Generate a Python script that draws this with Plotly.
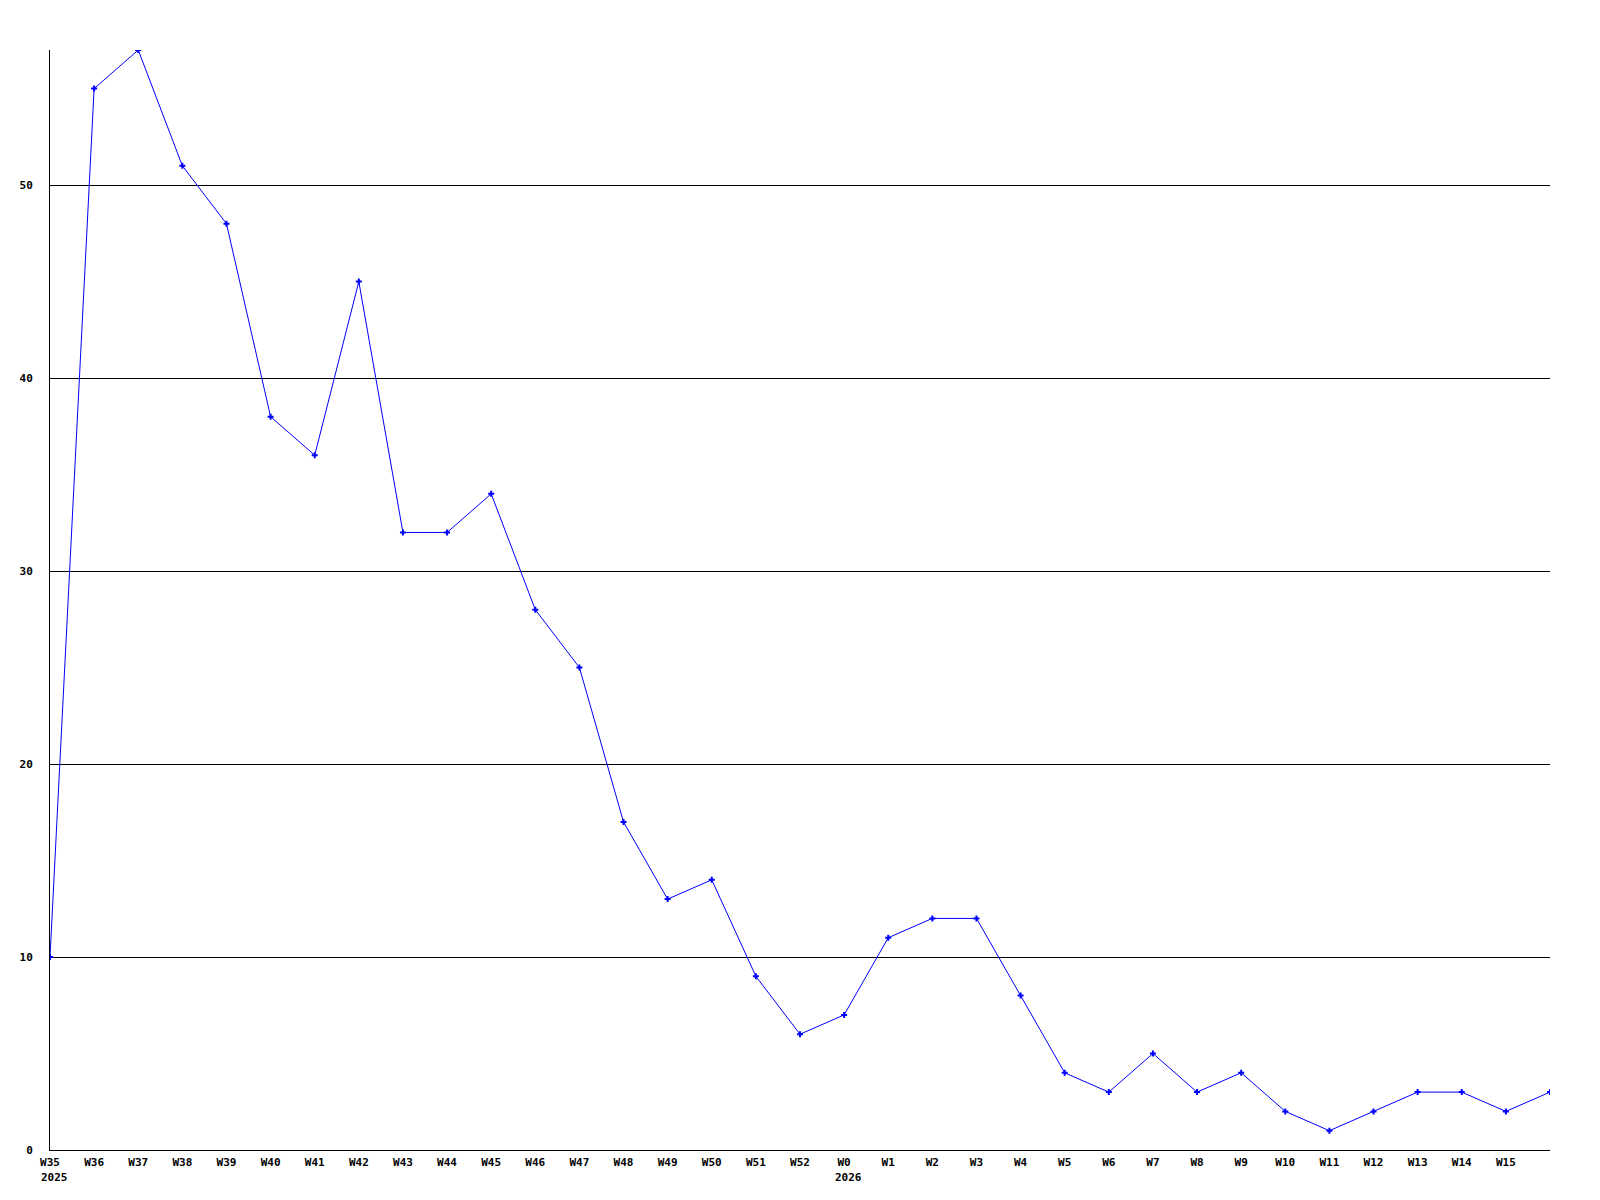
import plotly.graph_objects as go

weeks = ["W35", "W36", "W37", "W38", "W39", "W40", "W41", "W42", "W43", "W44",
         "W45", "W46", "W47", "W48", "W49", "W50", "W51", "W52", "W0", "W1",
         "W2", "W3", "W4", "W5", "W6", "W7", "W8", "W9", "W10", "W11",
         "W12", "W13", "W14", "W15", "W16"]
values = [10, 55, 57, 51, 48, 38, 36, 45, 32, 32,
          34, 28, 25, 17, 13, 14, 9, 6, 7, 11,
          12, 12, 8, 4, 3, 5, 3, 4, 2, 1,
          2, 3, 3, 2, 3]
tick_labels = weeks[:-1]  # last point has no label
year_labels = {"W35": "2025", "W0": "2026"}
y_ticks = [0, 10, 20, 30, 40, 50]

FONT = "DejaVu Sans Mono"
idx = list(range(len(values)))

fig = go.Figure()
fig.add_trace(go.Scatter(
    x=idx, y=values, mode="lines+markers",
    line=dict(color="#0000ff", width=1),
    marker=dict(color="#0000ff", size=5, symbol="cross"),
    hoverinfo="skip",
))

annotations = []
for lab, yr in year_labels.items():
    annotations.append(dict(
        x=weeks.index(lab), y=0, xref="x", yref="paper",
        text=yr, showarrow=False, xanchor="left", yanchor="top",
        xshift=-11, yshift=-19,
        font=dict(family=FONT, size=11, color="black", weight="bold"),
    ))

fig.update_layout(
    width=1600, height=1200,
    margin=dict(l=42, r=58, t=42, b=58),
    paper_bgcolor="white", plot_bgcolor="white",
    showlegend=False,
    annotations=annotations,
    xaxis=dict(
        range=[0, len(values) - 1],
        tickmode="array", tickvals=list(range(len(tick_labels))), ticktext=tick_labels,
        showgrid=False, zeroline=False,
        showline=True, linecolor="black", linewidth=1,
        ticks="", tickangle=0, ticklabelstandoff=2,
        tickfont=dict(family=FONT, size=11, color="black", weight="bold"),
    ),
    yaxis=dict(
        range=[0, 57],
        tickmode="array", tickvals=y_ticks, ticktext=[str(v) for v in y_ticks],
        showgrid=True, gridcolor="black", gridwidth=1,
        zeroline=False,
        showline=True, linecolor="black", linewidth=1,
        ticks="", ticklabelstandoff=14,
        tickfont=dict(family=FONT, size=11, color="black", weight="bold"),
    ),
)

fig.write_html("out.html")
